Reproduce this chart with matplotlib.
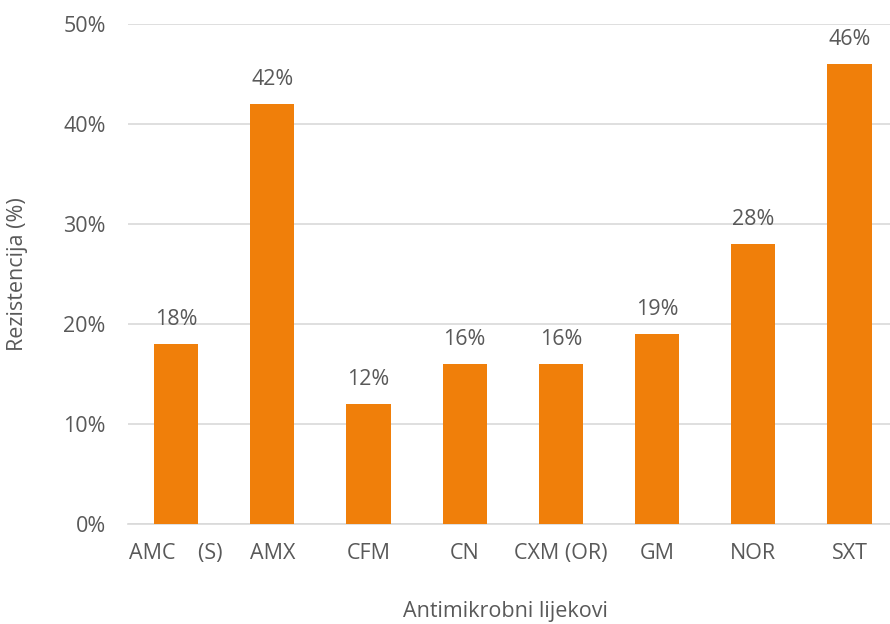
import matplotlib
matplotlib.use("Agg")
import matplotlib.pyplot as plt
from matplotlib.ticker import FuncFormatter

categories = ["AMC    (S)", "AMX", "CFM", "CN", "CXM (OR)", "GM", "NOR", "SXT"]
values = [18, 42, 12, 16, 16, 19, 28, 46]
y_ticks = [0, 10, 20, 30, 40, 50]

plt.rcParams['font.family'] = ['Open Sans', 'DejaVu Sans']
text_color = "#595959"
bar_color = "#F07F0A"
grid_color = "#D9D9D9"
fs = 15.5

fig = plt.figure(figsize=(8.9, 6.24), dpi=100)
left = 128 / 890
right = 897.6 / 890
bottom = 1 - 524 / 624
top = 1 - 24 / 624
ax = fig.add_axes([left, bottom, right - left, top - bottom])

x = list(range(len(categories)))
bars = ax.bar(x, values, width=0.46, color=bar_color, zorder=3)
for xi, v in zip(x, values):
    ax.annotate(f"{v}%", (xi, v), xytext=(0, 10), textcoords="offset points",
                ha="center", va="bottom", fontsize=fs, color=text_color)

ax.set_xlim(-0.5, len(categories) - 0.5)
ax.set_ylim(0, 50)
ax.set_yticks(y_ticks)
ax.yaxis.set_major_formatter(FuncFormatter(lambda v, p: f"{int(v)}%"))
ax.set_xticks(x)
ax.set_xticklabels(categories)
ax.grid(axis="y", color=grid_color, linewidth=1.2, zorder=0)
for s in ["top", "right", "left"]:
    ax.spines[s].set_visible(False)
ax.spines["bottom"].set_color(grid_color)
ax.spines["bottom"].set_linewidth(1.2)
ax.tick_params(axis="both", length=0, labelsize=fs, labelcolor=text_color)
ax.tick_params(axis="x", pad=14)
ax.tick_params(axis="y", pad=16)

fig.text(505 / 890, 1 - 612 / 624, "Antimikrobni lijekovi", ha="center", va="center",
         fontsize=fs, color=text_color)
fig.text(18 / 890, 1 - 274 / 624, "Rezistencija (%)", ha="center", va="center",
         rotation=90, fontsize=fs, color=text_color)

fig.savefig("out.png", dpi=100)
